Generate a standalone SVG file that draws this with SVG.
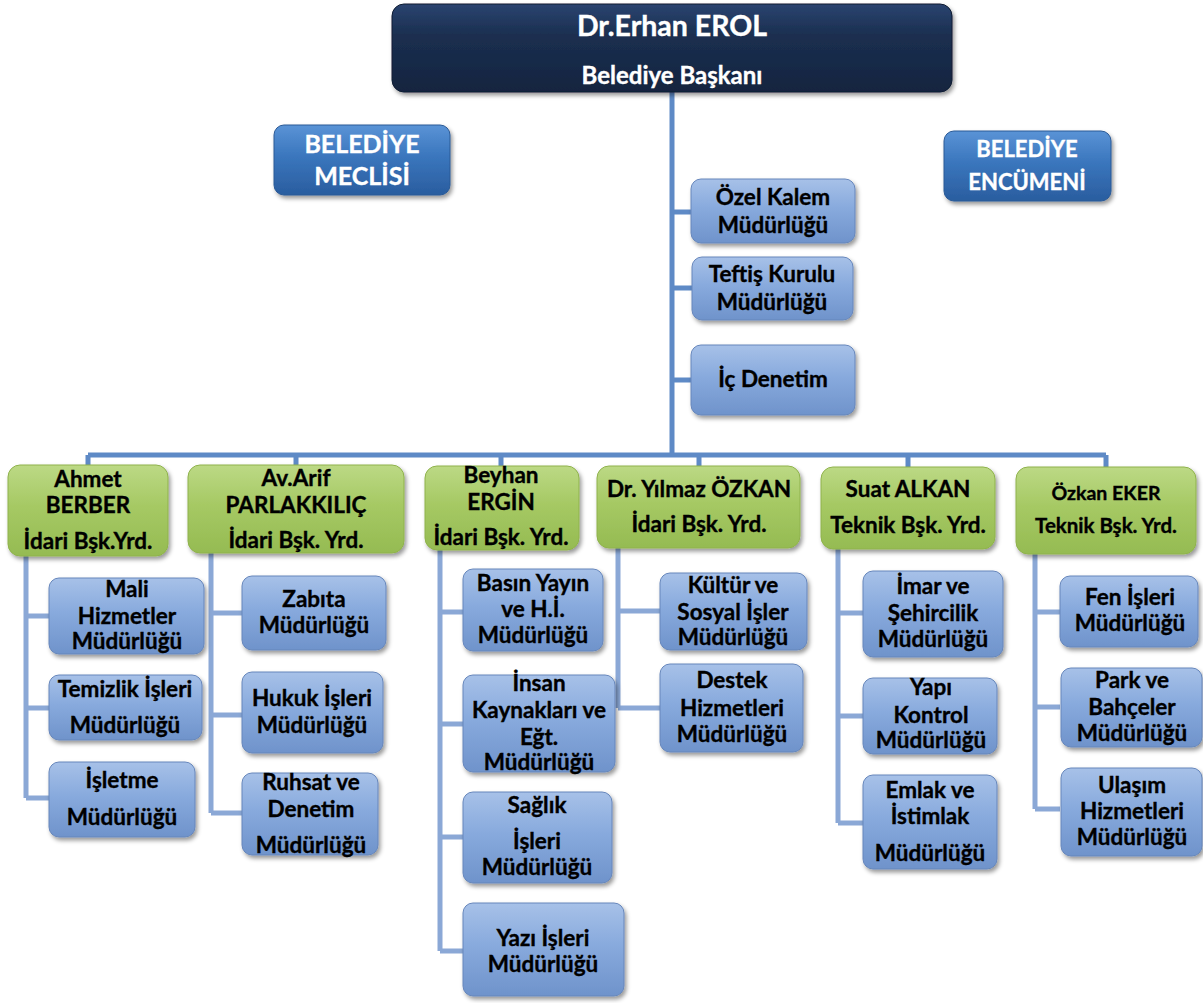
<svg xmlns="http://www.w3.org/2000/svg" width="1203" height="1003" viewBox="0 0 1203 1003">
<defs>
<linearGradient id="gNavy" x1="0" y1="0" x2="0" y2="1">
<stop offset="0" stop-color="#2a4470"/><stop offset="0.35" stop-color="#1b2f50"/><stop offset="1" stop-color="#14243f"/>
</linearGradient>
<linearGradient id="gCouncil" x1="0" y1="0" x2="0" y2="1">
<stop offset="0" stop-color="#5a93d6"/><stop offset="0.45" stop-color="#3a76bd"/><stop offset="1" stop-color="#2a5d9f"/>
</linearGradient>
<linearGradient id="gGreen" x1="0" y1="0" x2="0" y2="1">
<stop offset="0" stop-color="#bcd985"/><stop offset="0.45" stop-color="#a6c964"/><stop offset="1" stop-color="#95bb52"/>
</linearGradient>
<linearGradient id="gBlue" x1="0" y1="0" x2="0" y2="1">
<stop offset="0" stop-color="#a7c1e8"/><stop offset="0.45" stop-color="#88aadd"/><stop offset="1" stop-color="#6f93cb"/>
</linearGradient>
<filter id="sh" x="-10%" y="-10%" width="125%" height="135%">
<feDropShadow dx="2" dy="3" stdDeviation="2" flood-color="#000" flood-opacity="0.4"/>
</filter>
<style>
text{font-family:Lato,"Liberation Sans",sans-serif;font-weight:bold;text-anchor:middle;fill:#000;stroke:#000;stroke-width:0.35;font-size:22.5px}
.navy{fill:url(#gNavy);stroke:#0f1c33;stroke-width:1;filter:url(#sh)}
.council{fill:url(#gCouncil);stroke:#2a5a96;stroke-width:1;filter:url(#sh)}
.green{fill:url(#gGreen);stroke:#8fb24c;stroke-width:1;filter:url(#sh)}
.blue{fill:url(#gBlue);stroke:#6686bb;stroke-width:1;filter:url(#sh)}
text.w{fill:#fff;stroke:#fff}
.main{stroke:#5e8ac6;stroke-width:5;fill:none}
.sub{stroke:#8ba8d6;stroke-width:5;fill:none}
</style>
</defs>
<rect width="1203" height="1003" fill="#fff"/>

<g id="connectors">
<path class="main" d="M672 92V455M672 212H691M672 288H692M672 380H691"/>
<path class="main" d="M88 455H1106M88 455V466M296 455V466M501 455V466M699 455V467M908 455V468M1106 455V468"/>
<path class="sub" d="M26 556V798M26 616H49M26 708H49M26 798H49"/>
<path class="sub" d="M211 553V813M211 613H242M211 715H242M211 813H242"/>
<path class="sub" d="M440 550V951M440 612H463M440 724H463M440 837H463M440 951H463"/>
<path class="sub" d="M618 548V708M618 611H660M618 708H660"/>
<path class="sub" d="M838 549V823M838 613H863M838 716H863M838 823H863"/>
<path class="sub" d="M1035 554V809M1035 612H1060M1035 707H1060M1035 809H1060"/>
</g>

<g id="baskan">
<rect class="navy" x="392" y="4" width="560" height="88" rx="12"/>
<text class="w" x="672" y="36" style="font-size:28.5px">Dr.Erhan EROL</text>
<text class="w" x="672" y="84" style="font-size:24px">Belediye Başkanı</text>
</g>

<g id="meclis">
<rect class="council" x="274" y="125" width="176" height="70" rx="10"/>
<text class="w" x="362" y="153" style="font-size:25px">BELEDİYE</text>
<text class="w" x="362" y="185" style="font-size:25px">MECLİSİ</text>
</g>

<g id="encumen">
<rect class="council" x="944" y="131" width="167" height="70" rx="10"/>
<text class="w" x="1027" y="157" style="font-size:22px">BELEDİYE</text>
<text class="w" x="1027" y="190" style="font-size:22px">ENCÜMENİ</text>
</g>

<g id="ozel-kalem">
<rect class="blue" x="691" y="179" width="164" height="64" rx="10"/>
<text x="773" y="205">Özel Kalem</text>
<text x="773" y="233">Müdürlüğü</text>
</g>
<g id="teftis">
<rect class="blue" x="692" y="257" width="161" height="63" rx="10"/>
<text x="772" y="282">Teftiş Kurulu</text>
<text x="772" y="310">Müdürlüğü</text>
</g>
<g id="ic-denetim">
<rect class="blue" x="691" y="345" width="164" height="70" rx="10"/>
<text x="773" y="387">İç Denetim</text>
</g>

<g id="ahmet">
<rect class="green" x="8" y="465" width="160" height="91" rx="12"/>
<text x="88" y="487">Ahmet</text>
<text x="88" y="513">BERBER</text>
<text x="88" y="549">İdari Bşk.Yrd.</text>
</g>
<g id="arif">
<rect class="green" x="188" y="465" width="216" height="88" rx="12"/>
<text x="296" y="486">Av.Arif</text>
<text x="296" y="513">PARLAKKILIÇ</text>
<text x="296" y="548">İdari Bşk. Yrd.</text>
</g>
<g id="beyhan">
<rect class="green" x="425" y="466" width="154" height="84" rx="12"/>
<text x="501" y="483">Beyhan</text>
<text x="501" y="510">ERGİN</text>
<text x="501" y="545">İdari Bşk. Yrd.</text>
</g>
<g id="yilmaz">
<rect class="green" x="597" y="466" width="203" height="82" rx="12"/>
<text x="699" y="497">Dr. Yılmaz ÖZKAN</text>
<text x="699" y="532">İdari Bşk. Yrd.</text>
</g>
<g id="suat">
<rect class="green" x="821" y="467" width="174" height="82" rx="12"/>
<text x="908" y="497">Suat ALKAN</text>
<text x="908" y="533">Teknik Bşk. Yrd.</text>
</g>
<g id="ozkan">
<rect class="green" x="1016" y="467" width="180" height="87" rx="12"/>
<text x="1106" y="500" style="font-size:19.5px">Özkan EKER</text>
<text x="1106" y="533" style="font-size:20.5px">Teknik Bşk. Yrd.</text>
</g>

<g id="mali">
<rect class="blue" x="49" y="578" width="155" height="76" rx="10"/>
<text x="127" y="597">Mali</text>
<text x="127" y="624">Hizmetler</text>
<text x="127" y="649">Müdürlüğü</text>
</g>
<g id="temizlik">
<rect class="blue" x="49" y="675" width="153" height="65" rx="10"/>
<text x="125" y="697">Temizlik İşleri</text>
<text x="125" y="733">Müdürlüğü</text>
</g>
<g id="isletme">
<rect class="blue" x="49" y="762" width="146" height="75" rx="10"/>
<text x="122" y="788">İşletme</text>
<text x="122" y="825">Müdürlüğü</text>
</g>

<g id="zabita">
<rect class="blue" x="242" y="576" width="144" height="74" rx="10"/>
<text x="314" y="607">Zabıta</text>
<text x="314" y="633">Müdürlüğü</text>
</g>
<g id="hukuk">
<rect class="blue" x="242" y="672" width="141" height="81" rx="10"/>
<text x="312" y="706">Hukuk İşleri</text>
<text x="312" y="733">Müdürlüğü</text>
</g>
<g id="ruhsat">
<rect class="blue" x="242" y="773" width="136" height="82" rx="10"/>
<text x="311" y="790">Ruhsat ve</text>
<text x="311" y="817">Denetim</text>
<text x="311" y="853">Müdürlüğü</text>
</g>

<g id="basin">
<rect class="blue" x="463" y="569" width="140" height="82" rx="10"/>
<text x="533" y="591">Basın Yayın</text>
<text x="533" y="617">ve H.İ.</text>
<text x="533" y="643">Müdürlüğü</text>
</g>
<g id="insan">
<rect class="blue" x="463" y="675" width="152" height="97" rx="10"/>
<text x="539" y="691">İnsan</text>
<text x="539" y="718">Kaynakları ve</text>
<text x="539" y="745">Eğt.</text>
<text x="539" y="770">Müdürlüğü</text>
</g>
<g id="saglik">
<rect class="blue" x="463" y="792" width="149" height="91" rx="10"/>
<text x="537" y="813">Sağlık</text>
<text x="537" y="849">İşleri</text>
<text x="537" y="875">Müdürlüğü</text>
</g>
<g id="yazi">
<rect class="blue" x="463" y="903" width="161" height="93" rx="10"/>
<text x="543" y="946">Yazı İşleri</text>
<text x="543" y="972">Müdürlüğü</text>
</g>

<g id="kultur">
<rect class="blue" x="660" y="573" width="147" height="77" rx="10"/>
<text x="733" y="593">Kültür ve</text>
<text x="733" y="620">Sosyal İşler</text>
<text x="733" y="645">Müdürlüğü</text>
</g>
<g id="destek">
<rect class="blue" x="660" y="664" width="143" height="88" rx="10"/>
<text x="732" y="688">Destek</text>
<text x="732" y="716">Hizmetleri</text>
<text x="732" y="742">Müdürlüğü</text>
</g>

<g id="imar">
<rect class="blue" x="863" y="571" width="140" height="86" rx="10"/>
<text x="933" y="594">İmar ve</text>
<text x="933" y="621">Şehircilik</text>
<text x="933" y="647">Müdürlüğü</text>
</g>
<g id="yapi">
<rect class="blue" x="863" y="678" width="134" height="76" rx="10"/>
<text x="931" y="695">Yapı</text>
<text x="931" y="723">Kontrol</text>
<text x="931" y="748">Müdürlüğü</text>
</g>
<g id="emlak">
<rect class="blue" x="863" y="775" width="134" height="94" rx="10"/>
<text x="930" y="798">Emlak ve</text>
<text x="930" y="824">İstimlak</text>
<text x="930" y="861">Müdürlüğü</text>
</g>

<g id="fen">
<rect class="blue" x="1060" y="576" width="138" height="71" rx="10"/>
<text x="1130" y="605">Fen İşleri</text>
<text x="1130" y="631">Müdürlüğü</text>
</g>
<g id="park">
<rect class="blue" x="1061" y="668" width="141" height="79" rx="10"/>
<text x="1132" y="688">Park ve</text>
<text x="1132" y="715">Bahçeler</text>
<text x="1132" y="741">Müdürlüğü</text>
</g>
<g id="ulasim">
<rect class="blue" x="1061" y="768" width="141" height="88" rx="10"/>
<text x="1132" y="793">Ulaşım</text>
<text x="1132" y="819">Hizmetleri</text>
<text x="1132" y="845">Müdürlüğü</text>
</g>
</svg>
